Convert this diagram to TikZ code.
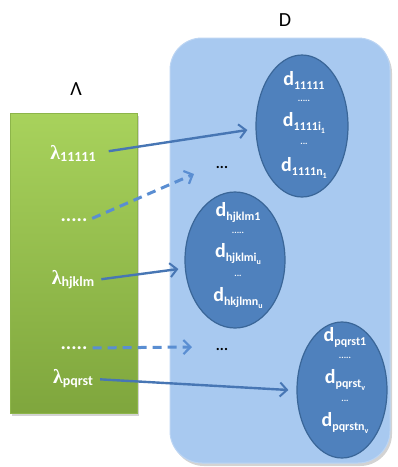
\documentclass[tikz,border=0pt]{standalone}
\usepackage{fontspec}
\setmainfont{Carlito}
\newfontfamily\lamfont{Liberation Serif}
\usetikzlibrary{arrows.meta,shadows,shapes.geometric}

\definecolor{greentop}{HTML}{A8D25C}
\definecolor{greenbot}{HTML}{7FA63D}
\definecolor{greenedge}{HTML}{8DB54A}
\definecolor{setfill}{HTML}{A8C9F0}
\definecolor{setedge}{HTML}{BCD5F3}
\definecolor{ellfill}{HTML}{4F81BD}
\definecolor{elledge}{HTML}{3A6698}
\definecolor{arrowcol}{HTML}{4776B4}
\definecolor{dashcol}{HTML}{5A8ED2}

% lowered small text for indices
\newcommand\lowtxt[2]{\raisebox{-0.2em}{\fontsize{#1}{#1}\selectfont #2}}

\tikzset{
  greenbox/.style={draw=greenedge, line width=0.8pt, top color=greentop,
    bottom color=greenbot, inner sep=0pt,
    drop shadow={opacity=0.35, shadow xshift=2pt, shadow yshift=-3pt}},
  setbox/.style={draw=setedge, line width=1pt, fill=setfill, inner sep=0pt,
    rounded corners=32pt,
    drop shadow={opacity=0.35, shadow xshift=2pt, shadow yshift=-3pt}},
  subset/.style={ellipse, draw=elledge, line width=1.2pt, fill=ellfill,
    inner sep=0pt},
  title/.style={font=\fontsize{20}{20}\selectfont, text=black, inner sep=1pt},
  lamtext/.style={text=white, inner sep=1pt},
  dtext/.style={text=white, inner sep=0pt, font=\bfseries\fontsize{20}{20}\selectfont},
  tinydots/.style={text=white, inner sep=0pt, font=\bfseries\fontsize{9}{9}\selectfont},
  whitedots/.style={text=white, inner sep=1pt, font=\bfseries\fontsize{20}{20}\selectfont},
  blackdots/.style={text=black, inner sep=1pt, font=\bfseries\fontsize{15}{15}\selectfont},
  mapto/.style={draw=arrowcol, line width=2.4pt,
    -{Straight Barb[length=7pt,width=14pt,line width=2pt]}},
  maybe/.style={draw=dashcol, line width=3pt, dash pattern=on 9pt off 6pt,
    -{Straight Barb[length=7pt,width=14pt,line width=2.2pt]}}
}

\begin{document}
\begin{tikzpicture}[x=1pt,y=-1pt]
\useasboundingbox (0,0) rectangle (398,467);

% the two sets
\node[greenbox, minimum width=127pt, minimum height=300pt] (L) at (73.5,263) {};
\node[setbox, minimum width=220pt, minimum height=425pt] (D) at (280,250.5) {};
\node[title] (Ltitle) at (76,89) {Λ};
\node[title] (Dtitle) at (285,20) {D};

% subsets of D
\node[subset, minimum width=92pt, minimum height=142pt] (e1) at (302,126) {};
\node[subset, minimum width=100pt, minimum height=136pt] (e2) at (235,260) {};
\node[subset, minimum width=90pt, minimum height=136pt] (e3) at (342,390) {};

\node[dtext] (d1a) at (304,80) {d\lowtxt{12}{11111}};
\node[tinydots] (d1b) at (304,101) {.....};
\node[dtext] (d1c) at (304,123) {d\lowtxt{12}{1111i\lowtxt{8}{1}}};
\node[tinydots] (d1d) at (304,144) {...};
\node[dtext] (d1e) at (304,168) {d\lowtxt{12}{1111n\lowtxt{8}{1}}};

\node[dtext] (d2a) at (238,212) {d\lowtxt{12}{hjklm1}};
\node[tinydots] (d2b) at (238,233) {.....};
\node[dtext] (d2c) at (238,254) {d\lowtxt{12}{hjklmi\lowtxt{8}{u}}};
\node[tinydots] (d2d) at (238,276) {...};
\node[dtext] (d2e) at (238,298) {d\lowtxt{12}{hkjlmn\lowtxt{8}{u}}};

\node[dtext] (d3a) at (345,337) {d\lowtxt{12}{pqrst1}};
\node[tinydots] (d3b) at (345,358) {.....};
\node[dtext] (d3c) at (345,380) {d\lowtxt{12}{pqrst\lowtxt{8}{v}}};
\node[tinydots] (d3d) at (345,401) {...};
\node[dtext] (d3e) at (345,423) {d\lowtxt{12}{pqrstn\lowtxt{8}{v}}};

% elements of Lambda
\node[lamtext] (l1) at (73,153) {{\lamfont\bfseries\fontsize{20}{20}\selectfont λ}\lowtxt{14}{\bfseries 11111}};
\node[whitedots] (l2) at (74,220) {.....};
\node[lamtext] (l3) at (73,280) {{\lamfont\bfseries\fontsize{20}{20}\selectfont λ}\lowtxt{14}{\bfseries hjklm}};
\node[whitedots] (l4) at (74,348) {.....};
\node[lamtext] (l5) at (73,379) {{\lamfont\bfseries\fontsize{20}{20}\selectfont λ}\lowtxt{14}{\bfseries pqrst}};

% further elements of D
\node[blackdots] (dd1) at (222,167) {...};
\node[blackdots] (dd2) at (222,349) {...};

% the mapping
\draw[mapto, shorten <=12pt] (l1.east) -- ([shift={(-8pt,-4pt)}]e1.west);
\draw[mapto, shorten <=6pt] (l3.east) -- ([shift={(-6pt,-9pt)}]e2.west);
\draw[mapto, shorten <=6pt] (l5.east) -- ([shift={(-8pt,0pt)}]e3.west);
\draw[maybe, shorten <=4pt] (l2.east) -- ([shift={(-28pt,-7pt)}]dd1.center);
\draw[maybe, shorten <=4pt] (l4.east) -- ([shift={(-30pt,2pt)}]dd2.center);
\end{tikzpicture}
\end{document}
